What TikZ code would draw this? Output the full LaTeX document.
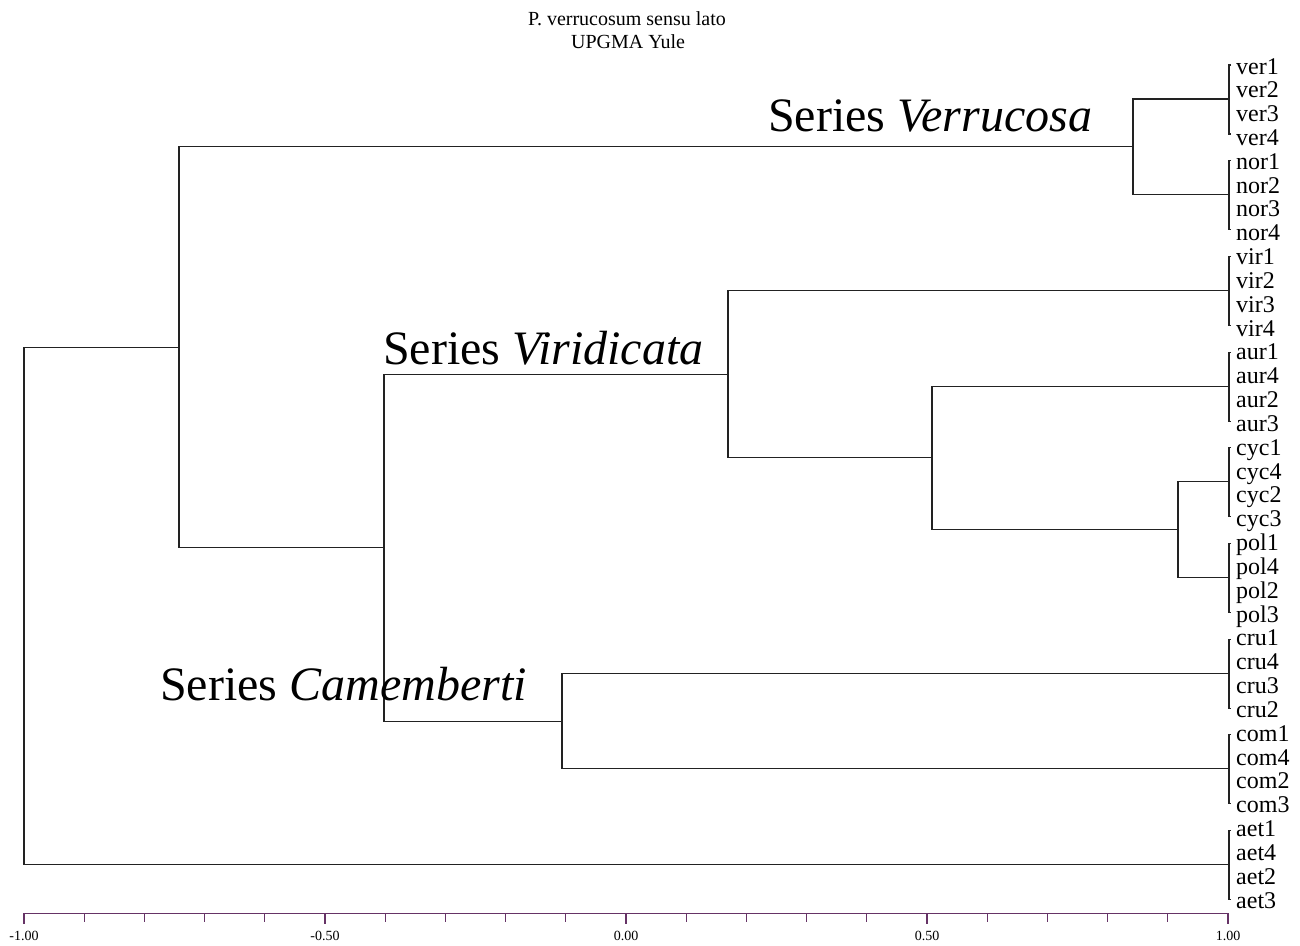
\documentclass[tikz,border=0pt]{standalone}
\usepackage{fontspec}
\setmainfont{Liberation Serif}
\usetikzlibrary{calc}
\definecolor{axiscol}{HTML}{663366}
\definecolor{treecol}{HTML}{222222}
\begin{document}
\begin{tikzpicture}[x=1pt,y=-1pt,
  branch/.style={draw=treecol,line width=1.1pt},
  leaf/.style={anchor=base west,inner sep=0pt,font=\fontsize{24}{28}\selectfont},
  series/.style={anchor=base west,inner sep=0pt,font=\fontsize{48}{53}\selectfont},
  titletext/.style={anchor=base,inner sep=0pt,font=\fontsize{20}{23}\selectfont},
  ticklabel/.style={anchor=base,inner sep=0pt,font=\fontsize{14}{16}\selectfont},
  axisline/.style={draw=axiscol,line width=1.1pt}]
\useasboundingbox (0,0) rectangle (1300,945);
% title
\node[titletext] (title) at (627,25) {P. verrucosum sensu lato};
\node[titletext] (subtitle) at (628,48) {UPGMA Yule};
% leaf groups
\coordinate (ver) at (1229,99);
\coordinate (nor) at (1229,194.7);
\coordinate (vir) at (1229,290.4);
\coordinate (aur) at (1229,386.1);
\coordinate (cyc) at (1229,481.8);
\coordinate (pol) at (1229,577.5);
\coordinate (cru) at (1229,673.2);
\coordinate (com) at (1229,768.9);
\coordinate (aet) at (1229,864.6);
% internal nodes
\coordinate (nvn) at (1133,146.85);
\coordinate (ncp) at (1178,529.65);
\coordinate (nacp) at (932,457.9);
\coordinate (nvir) at (728,374.1);
\coordinate (ncc) at (562,721.05);
\coordinate (nvc) at (384,547.6);
\coordinate (ntop) at (179,347.2);
\coordinate (root) at (24,605.9);
% branches
\draw[branch] (nvn) |- (ver);
\draw[branch] (nvn) |- (nor);
\draw[branch] (ncp) |- (cyc);
\draw[branch] (ncp) |- (pol);
\draw[branch] (nacp) |- (aur);
\draw[branch] (nacp) |- (ncp);
\draw[branch] (nvir) |- (vir);
\draw[branch] (nvir) |- (nacp);
\draw[branch] (ncc) |- (cru);
\draw[branch] (ncc) |- (com);
\draw[branch] (nvc) |- (nvir);
\draw[branch] (nvc) |- (ncc);
\draw[branch] (ntop) |- (nvn);
\draw[branch] (ntop) |- (nvc);
\draw[branch] (root) |- (ntop);
\draw[branch] (root) |- (aet);
% brackets for leaf groups
\foreach \g in {ver,nor,vir,aur,cyc,pol,cru,com,aet}{
  \draw[branch] ($(\g)+(2,-34)$) -- ($(\g)+(0,-34)$) -- ($(\g)+(0,35)$) -- ($(\g)+(2,35)$);
}
% leaf labels
\foreach \t [count=\i from 0] in {ver1,ver2,ver3,ver4,nor1,nor2,nor3,nor4,vir1,vir2,vir3,vir4,aur1,aur4,aur2,aur3,cyc1,cyc4,cyc2,cyc3,pol1,pol4,pol2,pol3,cru1,cru4,cru3,cru2,com1,com4,com2,com3,aet1,aet4,aet2,aet3}{
  \node[leaf] (L\i) at (1236,{74+23.83*\i}) {\t};
}
% series labels
\node[series] (verrucosa) at (768,131) {Series \textit{Verrucosa}};
\node[series] (viridicata) at (383,364) {Series \textit{Viridicata}};
\node[series] (camemberti) at (160,700) {Series \textit{Camemberti}};
% axis
\coordinate (axL) at (24,913.3);
\coordinate (axR) at (1228,913.3);
\draw[axisline] (axL) -- (axR);
\foreach \k in {0,...,20}{
  \draw[axisline] ({24+60.2*\k},913.3) -- ++(0,8.5);
}
\foreach \k/\lab in {0/-1.00,5/-0.50,10/0.00,15/0.50,20/1.00}{
  \draw[axisline] ({24+60.2*\k},913.3) -- ++(0,11);
  \node[ticklabel] (T\k) at ({24+60.2*\k},940) {\lab};
}
\end{tikzpicture}
\end{document}
